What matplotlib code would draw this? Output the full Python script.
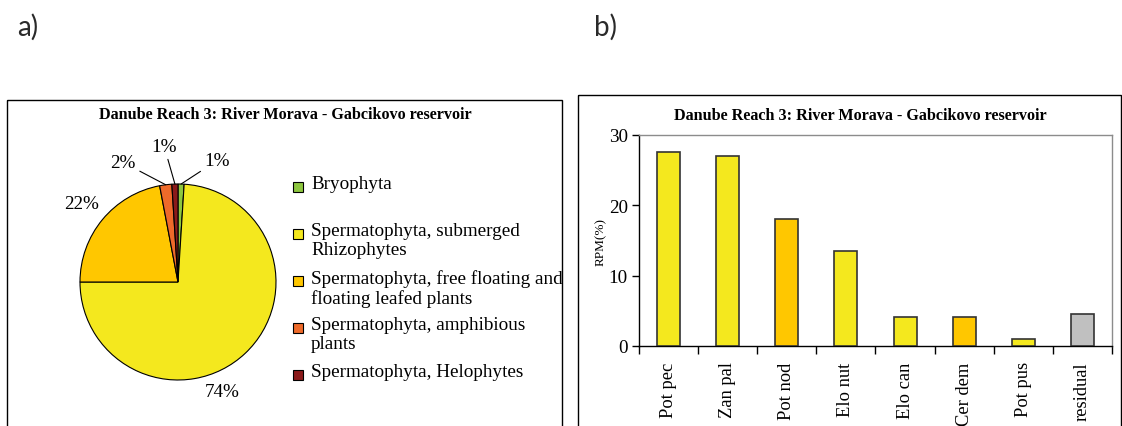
import matplotlib
matplotlib.use("Agg")
import matplotlib.pyplot as plt
from matplotlib.patches import Rectangle
import numpy as np

# ---------------- data ----------------
title = "Danube Reach 3: River Morava - Gabcikovo reservoir"

pie_labels = ["Bryophyta",
              "Spermatophyta, submerged\nRhizophytes",
              "Spermatophyta, free floating and\nfloating leafed plants",
              "Spermatophyta, amphibious\nplants",
              "Spermatophyta, Helophytes"]
pie_values = [1, 74, 22, 2, 1]
pie_colors = ["#8DC63F", "#F4E81E", "#FFC700", "#EE6A2A", "#8B1A1A"]

bar_categories = ["Pot pec", "Zan pal", "Pot nod", "Elo nut", "Elo can", "Cer dem", "Pot pus", "residual"]
bar_values = [27.6, 27.05, 18.0, 13.5, 4.08, 4.08, 1.04, 4.5]
bar_colors = ["#F4E81E", "#F4E81E", "#FFC700", "#F4E81E", "#F4E81E", "#FFC700", "#F4E81E", "#C0C0C0"]
y_ticks = [0, 10, 20, 30]
y_label = "RPM(%)"

W, H = 1122, 427
fig = plt.figure(figsize=(W / 100, H / 100), dpi=100)
serif = "Liberation Serif"

def fx(px):
    return px / W

def fy(py):
    return 1 - py / H

# overlay in pixel coordinates for layout elements
ov = fig.add_axes([0, 0, 1, 1], zorder=-1)
ov.set_xlim(0, W)
ov.set_ylim(H, 0)
ov.axis("off")

# panel frames
ov.add_patch(Rectangle((7, 101), 555, 400, fill=False, edgecolor="black", lw=1.0))
ov.add_patch(Rectangle((578, 96), 543, 400, fill=False, edgecolor="black", lw=1.0))

# panel letters
ov.text(17, 27, "a)", fontsize=20, family="Lato", fontweight="normal", va="center", ha="left", color="#2a2a2a")
ov.text(594, 27, "b)", fontsize=20, family="Lato", fontweight="normal", va="center", ha="left", color="#2a2a2a")

# titles
ov.text(285, 115, title, fontsize=11.6, family=serif, fontweight="bold", ha="center", va="center")
ov.text(860, 116, title, fontsize=11.6, family=serif, fontweight="bold", ha="center", va="center")

# ---------------- pie ----------------
cx, cy, r = 178, 283, 98
axp = fig.add_axes([fx(cx - r), fy(cy + r), fx(2 * r), (2 * r) / H])
wedges, _ = axp.pie(pie_values, colors=pie_colors, startangle=90, counterclock=False,
                    radius=1, wedgeprops=dict(edgecolor="black", linewidth=0.8))
axp.set_xlim(-1, 1)
axp.set_ylim(-1, 1)
axp.set_aspect("equal")
axp.axis("off")

# label positions (in pie radius units) and whether a leader line is drawn
label_pos = [(0.40, 1.24), (0.45, -1.12), (-0.98, 0.80), (-0.56, 1.22), (-0.14, 1.38)]
leader = [True, False, False, True, True]
for w, v, pos, lead in zip(wedges, pie_values, label_pos, leader):
    mid = np.deg2rad((w.theta1 + w.theta2) / 2)
    edge = (np.cos(mid), np.sin(mid))
    if lead:
        axp.annotate(f"{v}%", xy=edge, xytext=pos, fontsize=13.8, family=serif,
                     ha="center", va="center", annotation_clip=False,
                     arrowprops=dict(arrowstyle="-", color="black", lw=0.8,
                                     shrinkA=1, shrinkB=0))
    else:
        axp.text(pos[0], pos[1], f"{v}%", fontsize=13.8, family=serif,
                 ha="center", va="center", clip_on=False)

# legend
leg_x, leg_y0, leg_step = 298, 188, 47
for i, (lab, col) in enumerate(zip(pie_labels, pie_colors)):
    yy = leg_y0 + i * leg_step
    ov.add_patch(Rectangle((leg_x - 5, yy - 5), 10, 10, facecolor=col, edgecolor="black", lw=0.8))
    ov.text(leg_x + 13, yy - 12, lab, fontsize=13.8, family=serif, ha="left", va="top",
            linespacing=1.18)

# ---------------- bars ----------------
axb = fig.add_axes([fx(639), fy(347), fx(1112 - 639), (347 - 136) / H])
x = np.arange(len(bar_categories))
axb.bar(x, bar_values, width=0.39, color=bar_colors, edgecolor="#333333", linewidth=1.2, zorder=3)
axb.set_xlim(-0.5, len(bar_categories) - 0.5)
axb.set_ylim(0, 30)
axb.set_yticks(y_ticks)
axb.set_yticklabels([str(t) for t in y_ticks], fontsize=13.8, family=serif)
axb.set_xticks(x)
axb.set_xticklabels(bar_categories, rotation=90, fontsize=13.3, family=serif)
axb.tick_params(axis="x", which="major", length=0, pad=11)
axb.set_xticks(np.arange(len(bar_categories) + 1) - 0.5, minor=True)
axb.tick_params(axis="x", which="minor", length=6, width=1, direction="out")
axb.tick_params(axis="y", length=5, width=1, direction="out", pad=3)
for s in ["top", "right"]:
    axb.spines[s].set_color("#8c8c8c")
    axb.spines[s].set_linewidth(1.0)
for s in ["left", "bottom"]:
    axb.spines[s].set_color("black")
    axb.spines[s].set_linewidth(1.0)
axb.set_ylabel(y_label, fontsize=9.5, family=serif, labelpad=1)

fig.savefig("out.png", dpi=100)
